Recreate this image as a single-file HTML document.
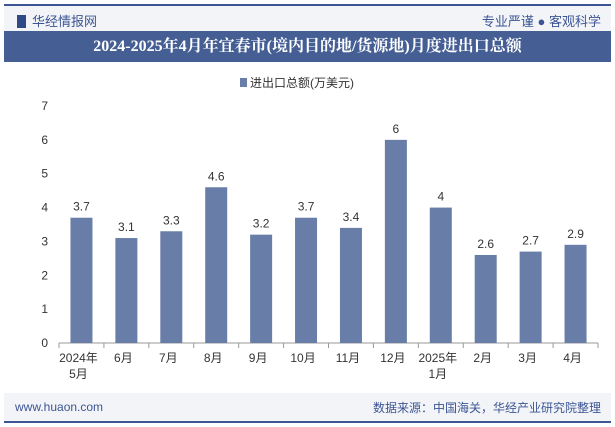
<!DOCTYPE html><html><head><meta charset="utf-8"><style>
body{margin:0;width:615px;height:427px;background:#fff;font-family:"Liberation Sans","Noto Sans CJK SC",sans-serif;position:relative;overflow:hidden}
.a{position:absolute}
</style></head><body>
<div class="a" style="left:4px;top:4px;width:607px;height:2px;background:#3c5593"></div>
<div class="a" style="left:4px;top:6px;width:607px;height:25px;background:#f2f4f8"></div>
<div class="a" style="left:17px;top:11px;font-size:13px;color:#3c5593"><span style="display:inline-block;width:9px;height:13px;background:#2e4a86;vertical-align:-2px;margin-right:6px"></span>华经情报网</div>
<div class="a" style="right:14px;top:11px;font-size:13px;color:#3c5593">专业严谨 ● 客观科学</div>
<div class="a" style="left:4px;top:31px;width:607px;height:31px;background:#455f95;color:#fff;font-family:'Liberation Serif','Noto Serif CJK SC',serif;font-weight:bold;font-size:16px;line-height:31px;text-align:center">2024-2025年4月年宜春市(境内目的地/货源地)月度进出口总额</div>
<div class="a" style="left:4px;top:393px;width:607px;height:28px;background:#f2f4f8"></div>
<div class="a" style="left:4px;top:421px;width:607px;height:2px;background:#3c5593"></div>
<div class="a" style="left:15px;top:400px;font-size:12px;color:#3c5593">www.huaon.com</div>
<div class="a" style="right:14px;top:399px;font-size:12px;color:#3c5593">数据来源：中国海关，华经产业研究院整理</div>
<svg class="a" style="left:0;top:0" width="615" height="427" id="c"></svg>
<script>
const categories=["2024年\n5月","6月","7月","8月","9月","10月","11月","12月","2025年\n1月","2月","3月","4月"];
const values=[3.7,3.1,3.3,4.6,3.2,3.7,3.4,6,4,2.6,2.7,2.9];
const yTicks=[0,1,2,3,4,5,6,7];
const svg=document.getElementById('c');const NS='http://www.w3.org/2000/svg';
const x0=59,x1=598,y0=343,y7=106;
const yS=v=>y0-(y0-y7)*v/7;const cw=(x1-x0)/categories.length;const xS=i=>x0+cw*(i+0.5);
function mk(t,a,txt){const e=document.createElementNS(NS,t);for(const k in a)e.setAttribute(k,a[k]);if(txt!=null)e.textContent=txt;svg.appendChild(e);return e;}
yTicks.forEach(t=>{const e=mk('text',{x:48,y:yS(t)+4,'text-anchor':'end','font-size':12,fill:'#333'},t);

});
const ax=mk('line',{x1:x0,x2:x1,y1:y0,y2:y0,stroke:'#999'});


for(let i=0;i<=categories.length;i++){const t=mk('line',{x1:x0+cw*i,x2:x0+cw*i,y1:y0,y2:y0+5,stroke:'#999'});

}
categories.forEach((c,i)=>{const cx=xS(i);
const b=mk('rect',{x:cx-11,y:yS(values[i]),width:22,height:y0-yS(values[i]),fill:'#687ea8'});


const v=mk('text',{x:cx,y:yS(values[i])-7,'text-anchor':'middle','font-size':12,fill:'#333'},values[i]);


c.split('\n').forEach((s,j)=>{const l=mk('text',{x:cx-3,y:362+j*16,'text-anchor':'middle','font-size':12,fill:'#333'},s);

});});
const lg=mk('rect',{x:240,y:78,width:7,height:9,fill:'#687ea8'});


const lt=mk('text',{x:250,y:87,'font-size':12,fill:'#333'},'进出口总额(万美元)');


</script>
</body></html>
